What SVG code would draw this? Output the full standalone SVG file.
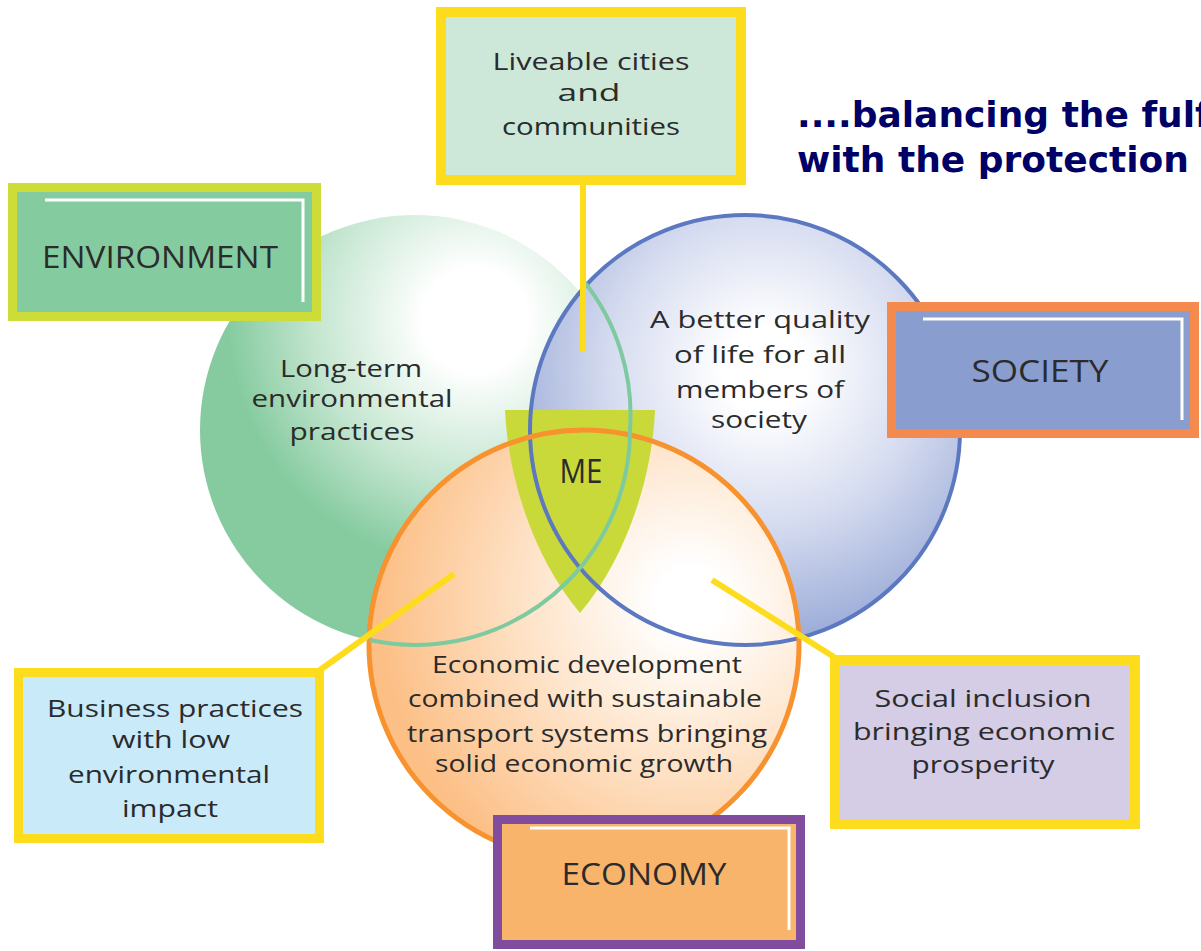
<svg xmlns="http://www.w3.org/2000/svg" width="1201" height="951" viewBox="0 0 1201 951">
<style>
.t{font-family:"Open Sans","Noto Sans","DejaVu Sans",sans-serif;fill:#2b2b2b;text-anchor:middle}
.c{font-size:24px}
.b{font-size:24px}
.lbl{font-size:31px}
.hd{font-family:"DejaVu Sans Bold","DejaVu Sans",Verdana,sans-serif;font-weight:bold;font-size:36px;fill:#000066}
.wl{fill:none;stroke:#ffffff;stroke-width:3}
.con{stroke:#fddc1e;stroke-width:6;fill:none}
</style>
<defs>
<radialGradient id="gG" cx="475" cy="320" r="290" gradientUnits="userSpaceOnUse">
<stop offset="0.18" stop-color="#ffffff"/>
<stop offset="0.55" stop-color="#c4e6d0"/>
<stop offset="0.85" stop-color="#86cba0"/>
</radialGradient>
<radialGradient id="gB" cx="765" cy="370" r="280" gradientUnits="userSpaceOnUse">
<stop offset="0.15" stop-color="#ffffff"/>
<stop offset="0.55" stop-color="#d6dcf0"/>
<stop offset="0.95" stop-color="#9eaed9"/>
</radialGradient>
<radialGradient id="gO" cx="690" cy="600" r="330" gradientUnits="userSpaceOnUse">
<stop offset="0.1" stop-color="#ffffff"/>
<stop offset="0.5" stop-color="#fee3c8"/>
<stop offset="0.95" stop-color="#fcbf86"/>
</radialGradient>
</defs>
<rect width="1201" height="951" fill="#ffffff"/>

<g id="circles">
<circle cx="415" cy="430" r="215" fill="url(#gG)"/>
<circle cx="745" cy="430" r="215" fill="url(#gB)"/>
<circle cx="584" cy="645" r="215" fill="url(#gO)"/>
</g>

<g id="me">
<path d="M505,410 L655,410 C652,480 625,560 580,613 C535,560 508,480 505,410 Z" fill="#c9d93a"/>
</g>

<g id="circle-strokes">
<circle cx="745" cy="430" r="215" fill="none" stroke="#5b78c0" stroke-width="4"/>
<circle cx="584" cy="645" r="215" fill="none" stroke="#f7922f" stroke-width="5"/>
<path d="M583,280 A215,215 0 0 1 630,430 A215,215 0 0 1 415,645 A215,215 0 0 1 370,640" fill="none" stroke="#7ecaa0" stroke-width="4"/>
</g>

<g id="connectors">
<line class="con" x1="583" y1="185" x2="583" y2="352"/>
<line class="con" x1="454" y1="574" x2="320" y2="670"/>
<line class="con" x1="712" y1="580" x2="834" y2="657"/>
</g>

<g id="me-label">
<text class="t" x="581" y="483" font-size="32" textLength="43" lengthAdjust="spacingAndGlyphs">ME</text>
</g>

<g id="env-text">
<text class="t c" x="351" y="377" textLength="142" lengthAdjust="spacingAndGlyphs">Long-term</text>
<text class="t c" x="352" y="407" textLength="201" lengthAdjust="spacingAndGlyphs">environmental</text>
<text class="t c" x="352" y="440" textLength="125" lengthAdjust="spacingAndGlyphs">practices</text>
</g>

<g id="soc-text">
<text class="t c" x="760" y="328" textLength="220" lengthAdjust="spacingAndGlyphs">A better quality</text>
<text class="t c" x="760" y="363" textLength="172" lengthAdjust="spacingAndGlyphs">of life for all</text>
<text class="t c" x="760" y="398" textLength="168" lengthAdjust="spacingAndGlyphs">members of</text>
<text class="t c" x="759" y="428" textLength="96" lengthAdjust="spacingAndGlyphs">society</text>
</g>

<g id="eco-text">
<text class="t c" x="587" y="673" textLength="310" lengthAdjust="spacingAndGlyphs">Economic development</text>
<text class="t c" x="585" y="707" textLength="354" lengthAdjust="spacingAndGlyphs">combined with sustainable</text>
<text class="t c" x="587" y="742" textLength="360" lengthAdjust="spacingAndGlyphs">transport systems bringing</text>
<text class="t c" x="584" y="772" textLength="298" lengthAdjust="spacingAndGlyphs">solid economic growth</text>
</g>

<g id="environment">
<rect x="12.5" y="187.5" width="304" height="129" fill="#85cba0" stroke="#cddc39" stroke-width="9"/>
<polyline class="wl" points="45,200 303,200 303,302"/>
<text class="t lbl" x="160" y="268" textLength="236" lengthAdjust="spacingAndGlyphs">ENVIRONMENT</text>
</g>

<g id="liveable">
<rect x="441" y="12" width="300" height="168" fill="#cde8d8" stroke="#fddc1e" stroke-width="10"/>
<text class="t b" x="591" y="70" font-size="27" textLength="197" lengthAdjust="spacingAndGlyphs">Liveable cities</text>
<text class="t b" x="589" y="101" font-size="27" textLength="63" lengthAdjust="spacingAndGlyphs">and</text>
<text class="t b" x="591" y="135" font-size="27" textLength="178" lengthAdjust="spacingAndGlyphs">communities</text>
</g>

<g id="society">
<rect x="891.5" y="306.5" width="303" height="127" fill="#8a9dcf" stroke="#f58a4f" stroke-width="9"/>
<polyline class="wl" points="923,319 1182,319 1182,420"/>
<text class="t lbl" x="1040" y="382" textLength="137" lengthAdjust="spacingAndGlyphs">SOCIETY</text>
</g>

<g id="business">
<rect x="18.5" y="672.5" width="301" height="166" fill="#c9eaf9" stroke="#fddc1e" stroke-width="9"/>
<text class="t b" x="175" y="717" textLength="256" lengthAdjust="spacingAndGlyphs">Business practices</text>
<text class="t b" x="171" y="748" textLength="118" lengthAdjust="spacingAndGlyphs">with low</text>
<text class="t b" x="169" y="783" textLength="202" lengthAdjust="spacingAndGlyphs">environmental</text>
<text class="t b" x="170" y="817" textLength="96" lengthAdjust="spacingAndGlyphs">impact</text>
</g>

<g id="social">
<rect x="835" y="660" width="300" height="164" fill="#d5cce5" stroke="#fddc1e" stroke-width="10"/>
<text class="t b" x="983" y="707" textLength="217" lengthAdjust="spacingAndGlyphs">Social inclusion</text>
<text class="t b" x="984" y="740" textLength="262" lengthAdjust="spacingAndGlyphs">bringing economic</text>
<text class="t b" x="983" y="773" textLength="143" lengthAdjust="spacingAndGlyphs">prosperity</text>
</g>

<g id="economy">
<rect x="497.5" y="819.5" width="303" height="125" fill="#f9b46c" stroke="#824c9e" stroke-width="9"/>
<polyline class="wl" points="530,828 789,828 789,930"/>
<text class="t lbl" x="644" y="885" textLength="165" lengthAdjust="spacingAndGlyphs">ECONOMY</text>
</g>

<g id="heading">
<text class="hd" x="797" y="127">....balancing the fulf</text>
<text class="hd" x="797" y="172">with the protection</text>
</g>
</svg>
